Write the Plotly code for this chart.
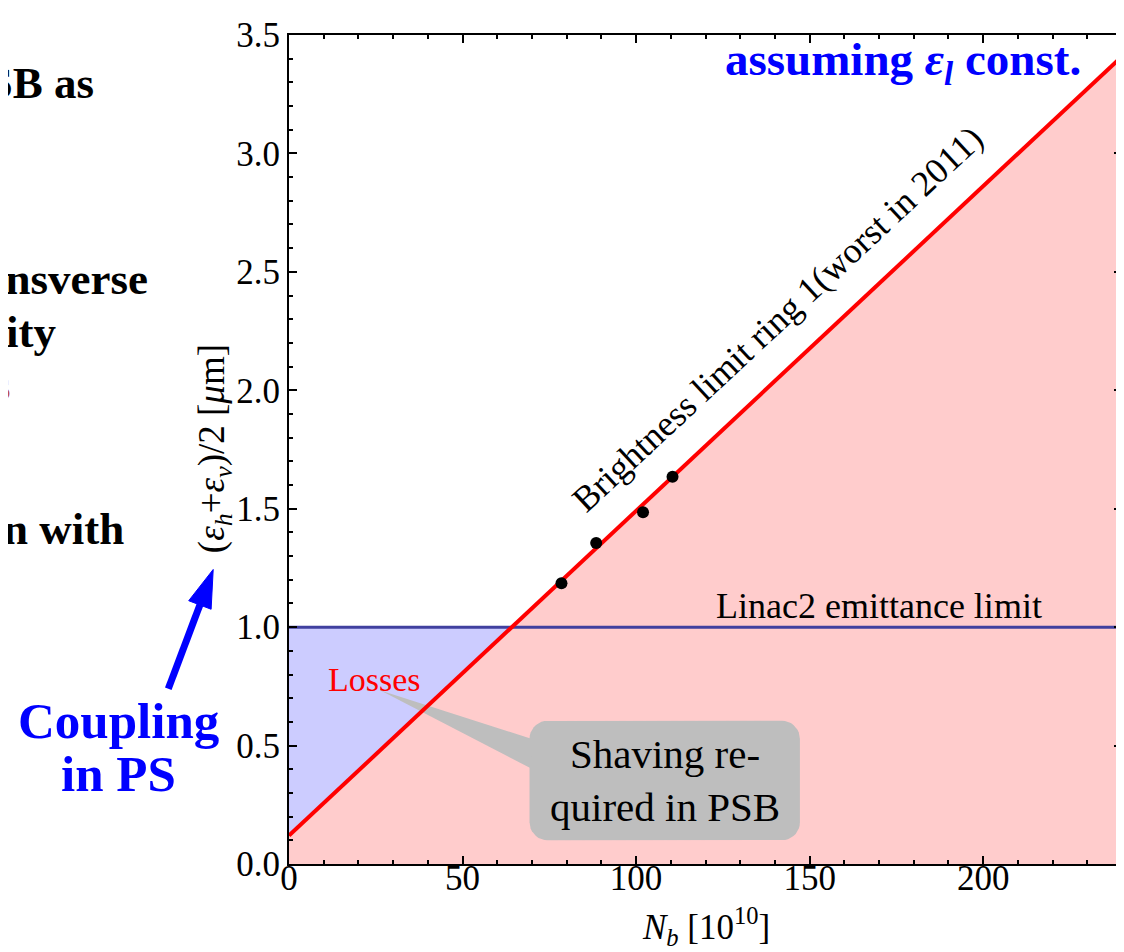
import numpy as np
import plotly.graph_objects as go

# ---------------- data ----------------
line_nb = [0, 240]            # brightness-limit line end points (N_b, 1e10)
line_eps = [0.12, 3.41]       # emittance at the end points (um)
linac_limit = 1.0             # Linac2 emittance limit (um)
meas_nb = [78.5, 88.5, 102, 110.5]
meas_eps = [1.185, 1.355, 1.485, 1.635]
x_ticks = [0, 50, 100, 150, 200]
y_ticks = [0.0, 0.5, 1.0, 1.5, 2.0, 2.5, 3.0, 3.5]

# derived
slope = (line_eps[1] - line_eps[0]) / (line_nb[1] - line_nb[0])
x_cross = (linac_limit - line_eps[0]) / slope

SERIF = "Liberation Serif"

fig = go.Figure()

# pink region below the brightness line
fig.add_trace(go.Scatter(x=line_nb, y=line_eps, mode="lines", line=dict(width=0),
                         fill="tozeroy", fillcolor="#FFCCCC", hoverinfo="skip", showlegend=False))
# blue region (above line, below Linac2 limit)
fig.add_trace(go.Scatter(x=[line_nb[0], line_nb[0], x_cross, line_nb[0]],
                         y=[line_eps[0], linac_limit, linac_limit, line_eps[0]],
                         mode="lines", line=dict(width=0), fill="toself",
                         fillcolor="#CCCCFF", hoverinfo="skip", showlegend=False))

# callout (gray rounded box + tail) in data coordinates
bx0, bx1, by0, by1 = 69.3, 147.2, 0.10, 0.605
rx, ry = 5.2, 0.076
pts_x, pts_y = [], []
corners = [(bx1 - rx, by1 - ry, 0), (bx0 + rx, by1 - ry, 90),
           (bx0 + rx, by0 + ry, 180), (bx1 - rx, by0 + ry, 270)]
for cx, cy, a0 in corners:
    th = np.radians(np.linspace(a0, a0 + 90, 10))
    pts_x += list(cx + rx * np.cos(th))
    pts_y += list(cy + ry * np.sin(th))
pts_x.append(pts_x[0]); pts_y.append(pts_y[0])
fig.add_trace(go.Scatter(x=pts_x, y=pts_y, mode="lines", line=dict(width=0),
                         fill="toself", fillcolor="#BEBEBE", hoverinfo="skip", showlegend=False))
fig.add_trace(go.Scatter(x=[26.4, bx0 + 0.5, bx0 + 0.5, 26.4], y=[0.732, 0.529, 0.403, 0.732],
                         mode="lines", line=dict(width=0), fill="toself",
                         fillcolor="#BEBEBE", hoverinfo="skip", showlegend=False))

# Linac2 limit line
fig.add_trace(go.Scatter(x=[line_nb[0], line_nb[1]], y=[linac_limit, linac_limit], mode="lines",
                         line=dict(color="#40409F", width=3), hoverinfo="skip", showlegend=False))
# brightness limit line
fig.add_trace(go.Scatter(x=line_nb, y=line_eps, mode="lines",
                         line=dict(color="#FF0000", width=4), hoverinfo="skip", showlegend=False))
# measured points
fig.add_trace(go.Scatter(x=meas_nb, y=meas_eps, mode="markers",
                         marker=dict(color="black", size=12), hoverinfo="skip", showlegend=False))

axis_common = dict(showline=True, linecolor="black", linewidth=2, mirror="allticks",
                   ticks="inside", ticklen=8, tickwidth=2, tickcolor="black",
                   showgrid=False, zeroline=False,
                   tickfont=dict(family=SERIF, size=35, color="black"))
fig.update_xaxes(range=[0, 240], tickvals=x_ticks, ticktext=[str(v) for v in x_ticks],
                 ticklabelstandoff=-18,
                 minor=dict(dtick=10, ticks="inside", ticklen=4, tickwidth=2, tickcolor="black"),
                 **axis_common)
fig.update_yaxes(range=[0, 3.5], tickvals=y_ticks, ticktext=[f"{v:.1f}" for v in y_ticks],
                 minor=dict(dtick=0.1, ticks="inside", ticklen=4, tickwidth=2, tickcolor="black"),
                 **axis_common)


def txt(text, x, y, ref="paper", xa="center", ya="middle", **kw):
    d = dict(text=text, x=x, y=y, xref="x" if ref == "data" else "paper",
             yref="y" if ref == "data" else "paper", xanchor=xa, yanchor=ya, showarrow=False)
    d.update(kw)
    return d


ann = []
# chart texts
ann.append(txt("Brightness limit ring 1(worst in 2011)", 140.8, 2.30, ref="data", textangle=-43,
               font=dict(family=SERIF, size=36, color="black")))
ann.append(txt("Linac2 emittance limit", 169.9, 1.088, ref="data",
               font=dict(family=SERIF, size=36, color="black")))
ann.append(txt("Losses", 24.6, 0.78, ref="data",
               font=dict(family=SERIF, size=34, color="#FF0000")))
ann.append(txt("Shaving re-<br>quired in PSB", 108.2, 0.353, ref="data", align="center",
               font=dict(family=SERIF, size=41, color="black")))
ann.append(txt("assuming <i>ε<sub>l</sub></i> const.", 0.9533, 0.967, xa="right",
               font=dict(family=SERIF, size=47, color="#0000FF", weight="bold")))
# axis titles
ann.append(txt("(<i>ε<sub>h</sub></i>+<i>ε<sub>v</sub></i>)/2 [<i>μ</i>m]", -0.0898, 0.5006,
               textangle=-90, font=dict(family=SERIF, size=37, color="black")))
ann.append(txt("<i>N<sub>b</sub></i> [10<sup>10</sup>]", 0.5, -0.0750,
               font=dict(family=SERIF, size=35, color="black")))
# slide text fragments (cut at the left edge)
frag = [("Use PSB as", -0.2311, 0.9426, "black"),
        ("transverse", -0.1665, 0.7061, "black"),
        ("intensity", -0.2766, 0.6413, "black"),
        ("losses", -0.3317, 0.5777, "#C0504D"),
        ("operation with", -0.1952, 0.4036, "black")]
for t, x, y, c in frag:
    ann.append(txt(t, x, y, xa="right", font=dict(family=SERIF, size=45, color=c, weight="bold")))
ann.append(txt("Coupling", -0.2048, 0.1719, font=dict(family=SERIF, size=51, color="#0000FF", weight="bold")))
ann.append(txt("in PS", -0.2048, 0.1083, font=dict(family=SERIF, size=51, color="#0000FF", weight="bold")))

# blue arrow (paper coordinates, in the left margin)
shapes = [
    dict(type="line", xref="paper", yref="paper", x0=-0.1449, y0=0.2113, x1=-0.1069, y1=0.3126,
         line=dict(color="#0000FF", width=7)),
    dict(type="path", xref="paper", yref="paper",
         path="M -0.0910 0.3553 L -0.0935 0.3073 L -0.1204 0.3176 Z",
         fillcolor="#0000FF", line=dict(color="#0000FF", width=1)),
]

fig.update_layout(width=1124, height=952, margin=dict(l=281, r=8, t=23, b=96),
                  paper_bgcolor="white", plot_bgcolor="white", annotations=ann, shapes=shapes,
                  showlegend=False)

fig.write_html("out.html")
